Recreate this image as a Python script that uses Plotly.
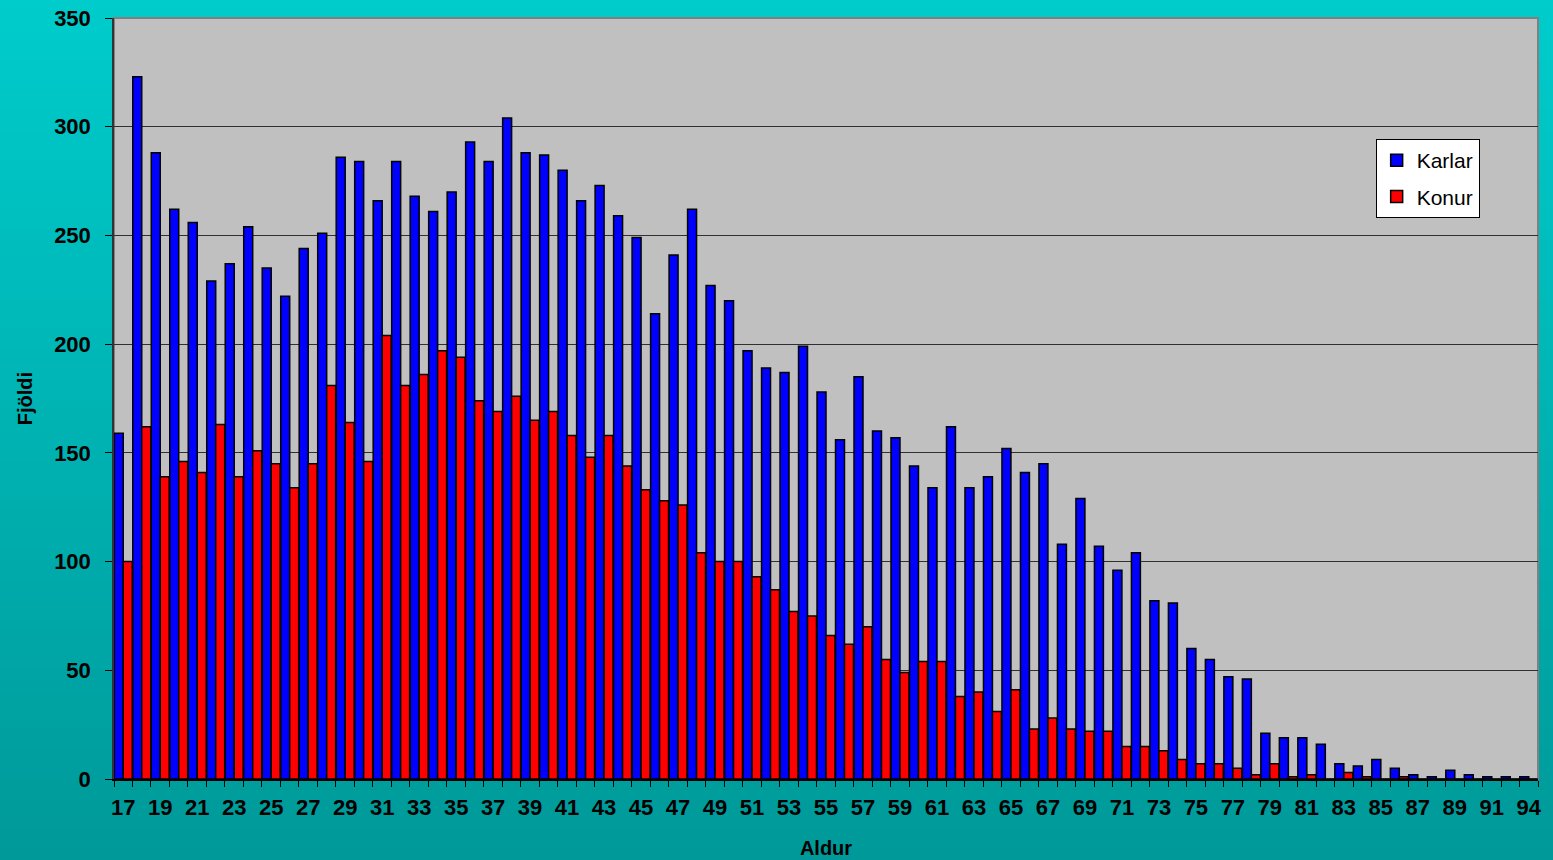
import plotly.graph_objects as go

ages = [str(a) for a in range(17, 93)] + ["94"]

karlar = [159, 323, 288, 262, 256, 229, 237, 254, 235, 222,
          244, 251, 286, 284, 266, 284, 268, 261, 270, 293,
          284, 304, 288, 287, 280, 266, 273, 259, 249, 214,
          241, 262, 227, 220, 197, 189, 187, 199, 178, 156,
          185, 160, 157, 144, 134, 162, 134, 139, 152, 141,
          145, 108, 129, 107, 96, 104, 82, 81, 60, 55,
          47, 46, 21, 19, 19, 16, 7, 6, 9, 5,
          2, 1, 4, 2, 1, 1, 1]

konur = [100, 162, 139, 146, 141, 163, 139, 151, 145, 134,
         145, 181, 164, 146, 204, 181, 186, 197, 194, 174,
         169, 176, 165, 169, 158, 148, 158, 144, 133, 128,
         126, 104, 100, 100, 93, 87, 77, 75, 66, 62,
         70, 55, 49, 54, 54, 38, 40, 31, 41, 23,
         28, 23, 22, 22, 15, 15, 13, 9, 7, 7,
         5, 2, 7, 1, 2, 0, 3, 1, 0, 1,
         0, 0, 0, 0, 0, 0, 0]

y_ticks = [0, 50, 100, 150, 200, 250, 300, 350]
tick_text = [a if i % 2 == 0 else "" for i, a in enumerate(ages)]

W, H = 1553, 860
L, R, T, B = 114, 15, 18, 81
pw, ph = W - L - R, H - T - B

fig = go.Figure()
fig.add_trace(go.Bar(name="Karlar", x=ages, y=karlar, legendgroup="k",
                     marker=dict(color="#0000FF", line=dict(color="black", width=1.5))))
fig.add_trace(go.Bar(name="Konur", x=ages, y=konur, legendgroup="f",
                     marker=dict(color="#FF0000", line=dict(color="black", width=1.5))))

# gradient background bands
shapes = []
n = 86
for i in range(n):
    py0 = i * H / n
    py1 = (i + 1) * H / n
    t = (py0 + py1) / 2 / H
    g = round(204 - 51 * t)
    color = f"rgb(0,{g},{g})"
    shapes.append(dict(type="rect", xref="paper", yref="paper", layer="below",
                       x0=-L / pw - 0.01, x1=(W - L) / pw + 0.01,
                       y0=(H - B - py1) / ph - 0.001, y1=(H - B - py0) / ph + 0.001,
                       line=dict(width=0), fillcolor=color))
shapes.append(dict(type="rect", xref="paper", yref="paper", layer="below",
                   x0=0, x1=1, y0=0, y1=1,
                   line=dict(color="#808080", width=2), fillcolor="#C0C0C0"))

tickfont = dict(size=22, family="Arial, Liberation Sans, sans-serif", weight="bold", color="black")

fig.update_layout(
    width=W, height=H,
    margin=dict(l=L, r=R, t=T, b=B),
    paper_bgcolor="#00B4B4",
    plot_bgcolor="#C0C0C0",
    barmode="group",
    bargap=0.03,
    bargroupgap=0,
    shapes=shapes,
    font=dict(family="Arial, Liberation Sans, sans-serif", color="black"),
    legend=dict(x=0.886, y=0.841, xanchor="left", yanchor="top",
                bgcolor="white", bordercolor="black", borderwidth=1,
                font=dict(size=21), tracegroupgap=6, itemwidth=30),
    xaxis=dict(type="category", tickvals=ages, ticktext=tick_text,
               ticks="outside", ticklen=6, tickcolor="black", tickson="boundaries",
               showline=True, linecolor="black", linewidth=1.5,
               tickfont=tickfont, automargin=False,
               tickangle=0, ticklabelstandoff=8,
               title=dict(text="Aldur", font=dict(size=20, weight="bold"), standoff=22),
               showgrid=False),
    yaxis=dict(range=[0, 350], tickvals=y_ticks, ticks="outside", ticklen=7,
               tickcolor="black", showline=True, linecolor="#333333", linewidth=1.5,
               showgrid=True, gridcolor="#303030", gridwidth=1,
               tickfont=tickfont, automargin=False,
               ticklabelstandoff=10,
               title=dict(text="Fjöldi", font=dict(size=20, weight="bold"), standoff=16),
               zeroline=False),
)

fig.write_html("out.html", config={"displayModeBar": False},
               post_script="document.body.style.margin='0';document.body.style.overflow='hidden';")
